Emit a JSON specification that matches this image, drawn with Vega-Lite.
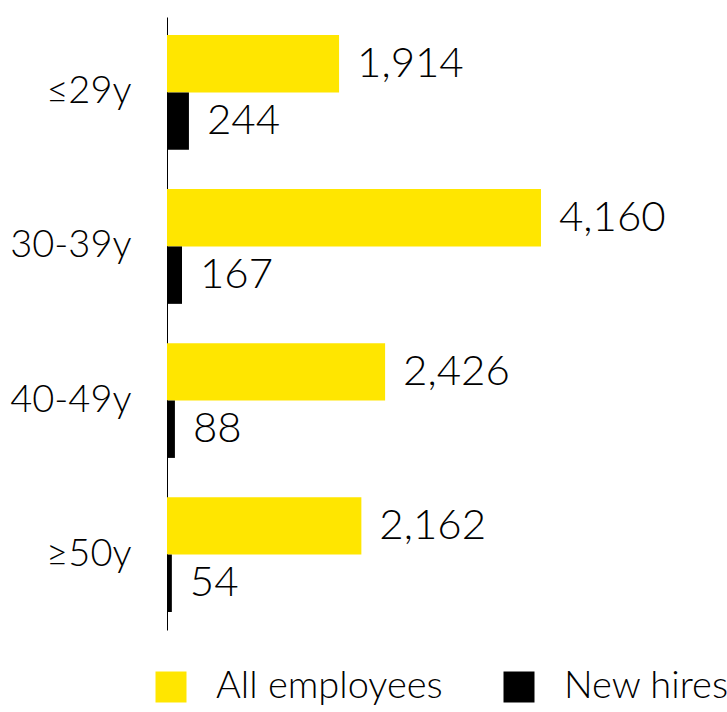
{
  "$schema": "https://vega.github.io/schema/vega-lite/v6.json",
  "autosize": "none",
  "padding": {"left": 167, "top": 17, "right": 0, "bottom": 82},
  "width": 560,
  "height": 613,
  "background": "white",
  "config": {"view": {"stroke": null}, "font": "Lato"},
  "data": {
    "values": [
      {"age": "≤29y", "series": "All employees", "value": 1914},
      {"age": "≤29y", "series": "New hires", "value": 244},
      {"age": "30-39y", "series": "All employees", "value": 4160},
      {"age": "30-39y", "series": "New hires", "value": 167},
      {"age": "40-49y", "series": "All employees", "value": 2426},
      {"age": "40-49y", "series": "New hires", "value": 88},
      {"age": "≥50y", "series": "All employees", "value": 2162},
      {"age": "≥50y", "series": "New hires", "value": 54}
    ]
  },
  "encoding": {
    "y": {
      "field": "age",
      "type": "nominal",
      "sort": ["≤29y", "30-39y", "40-49y", "≥50y"],
      "scale": {"paddingInner": 0.255, "paddingOuter": 0.117},
      "axis": {
        "title": null,
        "ticks": false,
        "domain": true,
        "domainColor": "#000000",
        "domainWidth": 1,
        "labelFontSize": 38,
        "labelFontWeight": 300,
        "labelColor": "#000000",
        "labelFont": "Lato",
        "labelPadding": 36
      }
    },
    "yOffset": {
      "field": "series",
      "type": "nominal",
      "sort": ["All employees", "New hires"],
      "scale": {"paddingInner": 0, "paddingOuter": 0}
    },
    "x": {
      "field": "value",
      "type": "quantitative",
      "scale": {"domain": [0, 6229], "nice": false},
      "axis": null
    }
  },
  "layer": [
    {
      "mark": {"type": "bar"},
      "encoding": {
        "color": {
          "field": "series",
          "type": "nominal",
          "scale": {"domain": ["All employees", "New hires"], "range": ["#FFE600", "#000000"]},
          "legend": {
            "title": null,
            "orient": "none",
            "direction": "horizontal",
            "legendX": -15,
            "legendY": 651,
            "symbolType": "square",
            "symbolSize": 961,
            "symbolStrokeWidth": 0,
            "labelFontSize": 38,
            "labelFontWeight": 300,
            "labelFont": "Lato",
            "labelColor": "#000000",
            "labelOffset": 26,
            "labelLimit": 400,
            "columnPadding": 57,
            "padding": 0
          }
        }
      }
    },
    {
      "mark": {"type": "text", "align": "left", "baseline": "middle", "dx": 18, "fontSize": 42, "fontWeight": 300, "font": "Lato", "color": "#000000"},
      "encoding": {
        "text": {"field": "value", "type": "quantitative", "format": ","}
      }
    }
  ]
}
